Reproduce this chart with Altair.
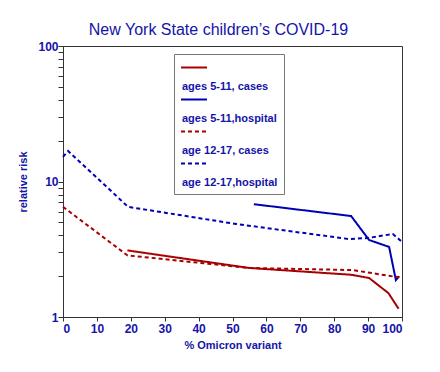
import altair as alt
import pandas as pd

series_names = ["ages 5-11, cases", "ages 5-11,hospital", "age 12-17, cases", "age 12-17,hospital"]
colors = ["#a80000", "#0000b4", "#a80000", "#0000b4"]
dashes = [[1, 0], [1, 0], [4, 3], [4, 3]]

x_511_cases = [19, 55, 85, 90.3, 96, 99]
y_511_cases = [3.1, 2.3, 2.05, 1.94, 1.5, 1.15]

x_511_hosp = [56.3, 85, 90.3, 96.2, 98.2, 99]
y_511_hosp = [6.8, 5.56, 3.7, 3.29, 1.87, 1.97]

x_1217_cases = [0, 19, 55, 85.5, 98, 99.5]
y_1217_cases = [6.5, 2.85, 2.3, 2.22, 1.98, 1.97]

x_1217_hosp = [0, 1.5, 19.2, 51, 84.4, 90, 97.3, 99.7]
y_1217_hosp = [15.2, 16.8, 6.5, 4.86, 3.76, 3.83, 4.1, 3.64]

x_ticks = [0, 10, 20, 30, 40, 50, 60, 70, 80, 90, 100]
y_ticks = [1, 2, 3, 4, 5, 6, 7, 8, 9, 10, 20, 30, 40, 50, 60, 70, 80, 90, 100]

rows = []
for name, xs, ys in zip(series_names,
                        [x_511_cases, x_511_hosp, x_1217_cases, x_1217_hosp],
                        [y_511_cases, y_511_hosp, y_1217_cases, y_1217_hosp]):
    for i, (a, b) in enumerate(zip(xs, ys)):
        rows.append({"series": name, "x": a, "y": b, "i": i})
df = pd.DataFrame(rows)

blue_text = "#1414a8"
font = "Liberation Sans"

chart = alt.Chart(df).mark_line(strokeWidth=2).encode(
    x=alt.X("x:Q", scale=alt.Scale(domain=[0, 100], nice=False),
            axis=alt.Axis(values=x_ticks, title="% Omicron variant", grid=False,
                          tickSize=4, labelPadding=2, titlePadding=5)),
    y=alt.Y("y:Q", scale=alt.Scale(type="log", domain=[1, 100], nice=False),
            axis=alt.Axis(values=y_ticks, title="relative risk", grid=False,
                          labelExpr="(datum.value == 1 || datum.value == 10 || datum.value == 100) ? datum.label : ''",
                          tickSize=5, labelPadding=0, titlePadding=9)),
    color=alt.Color("series:N", scale=alt.Scale(domain=series_names, range=colors),
                    legend=alt.Legend(title=None, orient="none", legendX=111, legendY=8,
                                      strokeColor="#777777", fillColor="white", padding=6,
                                      symbolType="M-1,0H3", symbolSize=169, symbolStrokeWidth=2,
                                      labelExpr="['', datum.label]", labelBaseline="top",
                                      labelOffset=alt.ExprRef("-13"),
                                      labelFont=font, labelFontSize=11, labelFontWeight="bold",
                                      labelColor=blue_text, rowPadding=0, labelLimit=200)),
    strokeDash=alt.StrokeDash("series:N", scale=alt.Scale(domain=series_names, range=dashes)),
    order="i:Q",
).properties(
    width=339, height=271,
    padding={"left": 9, "top": 14, "right": 5, "bottom": 5},
    title=alt.TitleParams("New York State children\u2019s COVID-19", font=font, fontSize=16,
                          fontWeight="normal", color=blue_text, offset=2, dx=-14),
).configure_view(stroke="#333333", strokeWidth=1).configure_axis(
    labelFont=font, labelFontSize=12, labelFontWeight="bold", labelColor=blue_text,
    titleFont=font, titleFontSize=11, titleFontWeight="bold", titleColor=blue_text,
    domainColor="#333333", tickColor="#333333",
)

chart.save("out.html", embed_options={"renderer": "svg", "actions": False})
